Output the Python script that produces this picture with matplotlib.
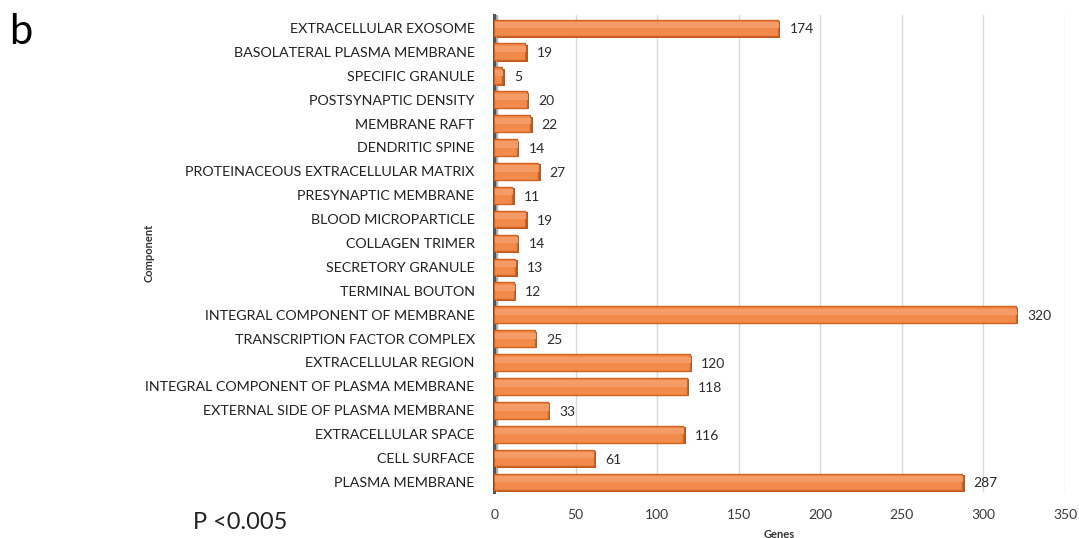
import matplotlib.pyplot as plt
import numpy as np

plt.rcParams['font.family'] = ['Lato', 'DejaVu Sans']

# components, listed top to bottom as in the figure
components = ['EXTRACELLULAR EXOSOME', 'BASOLATERAL PLASMA MEMBRANE', 'SPECIFIC GRANULE',
              'POSTSYNAPTIC DENSITY', 'MEMBRANE RAFT', 'DENDRITIC SPINE',
              'PROTEINACEOUS EXTRACELLULAR MATRIX', 'PRESYNAPTIC MEMBRANE',
              'BLOOD MICROPARTICLE', 'COLLAGEN TRIMER', 'SECRETORY GRANULE',
              'TERMINAL BOUTON', 'INTEGRAL COMPONENT OF MEMBRANE',
              'TRANSCRIPTION FACTOR COMPLEX', 'EXTRACELLULAR REGION',
              'INTEGRAL COMPONENT OF PLASMA MEMBRANE', 'EXTERNAL SIDE OF PLASMA MEMBRANE',
              'EXTRACELLULAR SPACE', 'CELL SURFACE', 'PLASMA MEMBRANE']
genes = [174, 19, 5, 20, 22, 14, 27, 11, 19, 14, 13, 12, 320, 25, 120, 118, 33, 116, 61, 287]
xticks = [0, 50, 100, 150, 200, 250, 300, 350]

fig = plt.figure(figsize=(10.79, 5.38), dpi=100)
ax = fig.add_axes([0.458, 0.0855, 0.529, 0.8865])

y = np.arange(len(components))[::-1]

# side shading of the 3D-style bars
ax.barh(y - 0.06, genes, height=0.7, left=1.5, color='#BF561D', zorder=2)
ax.barh(y, genes, height=0.7, color='#F28A4C', edgecolor='#D0631F', linewidth=1.0, zorder=3)
# soft top highlight
ax.barh(y + 0.12, genes, height=0.26, left=0.5, color='#F59C66', linewidth=0, zorder=4)

for yi, g in zip(y, genes):
    ax.text(g + 7, yi - 0.06, str(g), va='center', ha='left', fontsize=10, color='#2b2b2b')

ax.set_xlim(0, 350)
ax.set_ylim(-0.42, len(components) - 0.46)
ax.set_xticks(xticks)
ax.set_xticklabels([str(t) for t in xticks], fontsize=10, color='#3a3a3a')
ax.set_yticks(y)
ax.set_yticklabels(components, fontsize=10.3, color='#222222')
ax.tick_params(axis='x', length=0, pad=12)
ax.tick_params(axis='y', length=0, pad=14)
ax.xaxis.grid(True, color='#D9D9D9', linewidth=1.0)
ax.set_axisbelow(True)
for s in ['top', 'right', 'bottom']:
    ax.spines[s].set_visible(False)
ax.spines['left'].set_color('#555555')
ax.spines['left'].set_linewidth(2.2)
ax.axvspan(0, 1.5, color='#AFAFAF', zorder=1)

ax.set_xlabel('Genes', fontsize=8, fontweight='bold', labelpad=6, color='#333333')
fig.text(0.138, 0.53, 'Component', rotation=90, fontsize=8, fontweight='bold',
         va='center', ha='center', color='#333333')

fig.text(0.008, 0.94, 'b', fontsize=30, ha='left', va='center')
fig.text(0.179, 0.028, 'P <0.005', fontsize=17, ha='left', va='center', color='#222222')

fig.savefig('out.png', dpi=100)
